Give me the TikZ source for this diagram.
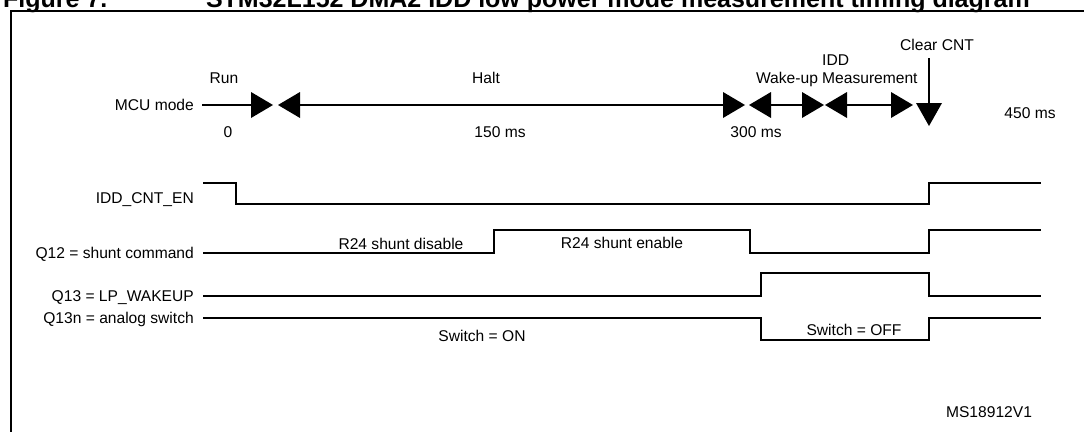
\documentclass[tikz,border=0pt]{standalone}
\usepackage{fontspec}
\setmainfont{Liberation Sans}
\begin{document}
\begin{tikzpicture}[x=1pt,y=-1pt,
  lbl/.style={font=\fontsize{15.6}{18}\selectfont, inner sep=0pt},
  ttl/.style={font=\bfseries\fontsize{25}{28}\selectfont, inner sep=0pt},
  sig/.style={line width=2pt, line join=miter},
  rtri/.pic={\fill (0,-13) -- (22,0) -- (0,13) -- cycle;},
  ltri/.pic={\fill (0,-13) -- (-22,0) -- (0,13) -- cycle;}]
\useasboundingbox (0,0) rectangle (1084,431);
\begin{scope}
\clip (0,0) rectangle (1084,431);
\draw[line width=2pt] (11,445) -- (11,11) -- (1095,11);
\node[ttl, anchor=base west] (fig) at (3,8) {Figure 7.};
\node[ttl, anchor=base east] (title) at (1030,8) {STM32L152 DMA2 IDD low power mode measurement timing diagram};
\end{scope}

% MCU mode line
\coordinate (m0) at (202,105);
\coordinate (r1) at (251,105); \coordinate (l1) at (300,105);
\coordinate (r2) at (723,105); \coordinate (l2) at (771,105);
\coordinate (r3) at (802,105); \coordinate (l3) at (847,105);
\coordinate (r4) at (891,105);
\coordinate (c0) at (929,58); \coordinate (c1) at (929,104);
\draw[sig] (m0) -- (r1);
\draw[sig] (l1) -- (r2);
\draw[sig] (l2) -- (r3);
\draw[sig] (l3) -- (r4);
\draw[sig] (c0) -- (c1);
\pic at (r1) {rtri}; \pic at (l1) {ltri};
\pic at (r2) {rtri}; \pic at (l2) {ltri};
\pic at (r3) {rtri}; \pic at (l3) {ltri};
\pic at (r4) {rtri};
\fill (916,103) -- (942,103) -- (929,126) -- cycle;

\node[lbl, anchor=base east] (mcu) at (194,110.5) {MCU mode};
\node[lbl, anchor=base] (run) at (224,83) {Run};
\node[lbl, anchor=base] (t0) at (228,137) {0};
\node[lbl, anchor=base] (halt) at (486,83) {Halt};
\node[lbl, anchor=base] (t150) at (500,137) {150 ms};
\node[lbl, anchor=base] (t300) at (756,137) {300 ms};
\node[lbl, anchor=base] (wake) at (787,83) {Wake-up};
\node[lbl, anchor=base west] (idd) at (822,65) {IDD};
\node[lbl, anchor=base west] (meas) at (822,83) {Measurement};
\node[lbl, anchor=base] (clr) at (937,50) {Clear CNT};
\node[lbl, anchor=base] (t450) at (1030,118) {450 ms};

% waveforms
\draw[sig] (203,183) -- (236,183) -- (236,204) -- (929,204) -- (929,183) -- (1041,183);
\draw[sig] (203,253) -- (494,253) -- (494,230) -- (750,230) -- (750,253) -- (929,253) -- (929,230) -- (1041,230);
\draw[sig] (203,296) -- (761,296) -- (761,273) -- (929,273) -- (929,296) -- (1041,296);
\draw[sig] (203,318) -- (761,318) -- (761,340) -- (929,340) -- (929,318) -- (1041,318);

\node[lbl, anchor=base east] (idden) at (194,203) {IDD\_CNT\_EN};
\node[lbl, anchor=base east] (q12) at (194,258) {Q12 = shunt command};
\node[lbl, anchor=base east] (q13) at (194,301) {Q13 = LP\_WAKEUP};
\node[lbl, anchor=base east] (q13n) at (194,323) {Q13n = analog switch};
\node[lbl, anchor=base] (dis) at (401,249) {R24 shunt disable};
\node[lbl, anchor=base] (ena) at (622,248) {R24 shunt enable};
\node[lbl, anchor=base] (son) at (482,341) {Switch = ON};
\node[lbl, anchor=base] (soff) at (854,335) {Switch = OFF};
\node[lbl, anchor=base] (ms) at (989,417) {MS18912V1};
\end{tikzpicture}
\end{document}
